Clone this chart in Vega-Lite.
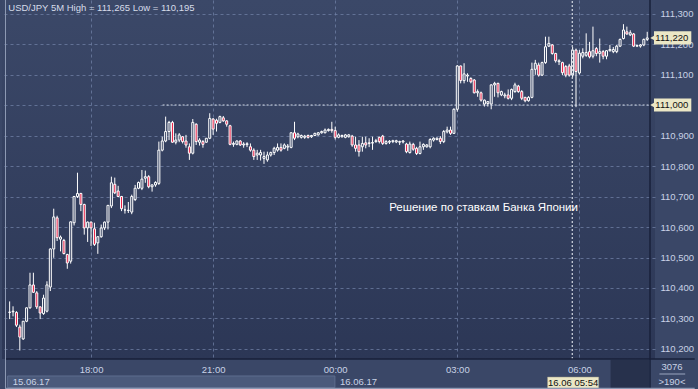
{
  "$schema": "https://vega.github.io/schema/vega-lite/v6.json",
  "width": 653,
  "height": 359,
  "autosize": "none",
  "padding": {"left": 2, "top": 0, "right": 43, "bottom": 30},
  "background": "#3a4767",
  "config": {
    "view": {"stroke": null, "fill": {"gradient": "linear", "x1": 0, "y1": 0, "x2": 0, "y2": 1, "stops": [{"offset": 0, "color": "#3b4868"}, {"offset": 1, "color": "#2c3756"}]}},
    "axis": {"labelFont": "Liberation Sans", "labelFontSize": 9.5, "labelColor": "#c9d2e6", "ticks": false, "domain": false, "gridColor": "#7080a6", "gridDash": [3, 3], "gridOpacity": 0.75, "gridWidth": 1, "title": null, "labelOverlap": false}
  },
  "datasets": {
    "candles": [
      {"i":0,"o":110.320,"h":110.356,"l":110.298,"c":110.321},
      {"i":1,"o":110.322,"h":110.340,"l":110.307,"c":110.324},
      {"i":2,"o":110.320,"h":110.324,"l":110.272,"c":110.278},
      {"i":3,"o":110.272,"h":110.280,"l":110.195,"c":110.239},
      {"i":4,"o":110.233,"h":110.291,"l":110.230,"c":110.291},
      {"i":5,"o":110.291,"h":110.336,"l":110.288,"c":110.335},
      {"i":6,"o":110.335,"h":110.450,"l":110.332,"c":110.410},
      {"i":7,"o":110.410,"h":110.450,"l":110.384,"c":110.386},
      {"i":8,"o":110.384,"h":110.390,"l":110.331,"c":110.338},
      {"i":9,"o":110.338,"h":110.340,"l":110.298,"c":110.318},
      {"i":10,"o":110.316,"h":110.378,"l":110.312,"c":110.367},
      {"i":11,"o":110.324,"h":110.422,"l":110.320,"c":110.410},
      {"i":12,"o":110.403,"h":110.530,"l":110.390,"c":110.528},
      {"i":13,"o":110.528,"h":110.660,"l":110.499,"c":110.633},
      {"i":14,"o":110.630,"h":110.637,"l":110.554,"c":110.565},
      {"i":15,"o":110.560,"h":110.572,"l":110.520,"c":110.567},
      {"i":16,"o":110.556,"h":110.561,"l":110.510,"c":110.513},
      {"i":17,"o":110.510,"h":110.512,"l":110.463,"c":110.482},
      {"i":18,"o":110.488,"h":110.618,"l":110.480,"c":110.617},
      {"i":19,"o":110.614,"h":110.702,"l":110.605,"c":110.700},
      {"i":20,"o":110.700,"h":110.778,"l":110.695,"c":110.710},
      {"i":21,"o":110.710,"h":110.712,"l":110.652,"c":110.674},
      {"i":22,"o":110.674,"h":110.676,"l":110.575,"c":110.597},
      {"i":23,"o":110.597,"h":110.618,"l":110.551,"c":110.616},
      {"i":24,"o":110.616,"h":110.618,"l":110.538,"c":110.597},
      {"i":25,"o":110.594,"h":110.614,"l":110.538,"c":110.543},
      {"i":26,"o":110.548,"h":110.570,"l":110.512,"c":110.568},
      {"i":27,"o":110.568,"h":110.608,"l":110.565,"c":110.597},
      {"i":28,"o":110.597,"h":110.618,"l":110.590,"c":110.616},
      {"i":29,"o":110.616,"h":110.672,"l":110.592,"c":110.671},
      {"i":30,"o":110.669,"h":110.765,"l":110.662,"c":110.745},
      {"i":31,"o":110.740,"h":110.762,"l":110.708,"c":110.712},
      {"i":32,"o":110.718,"h":110.735,"l":110.698,"c":110.700},
      {"i":33,"o":110.700,"h":110.702,"l":110.652,"c":110.660},
      {"i":34,"o":110.656,"h":110.671,"l":110.644,"c":110.656},
      {"i":35,"o":110.654,"h":110.682,"l":110.646,"c":110.655},
      {"i":36,"o":110.649,"h":110.706,"l":110.642,"c":110.700},
      {"i":37,"o":110.690,"h":110.738,"l":110.685,"c":110.727},
      {"i":38,"o":110.727,"h":110.749,"l":110.724,"c":110.746},
      {"i":39,"o":110.727,"h":110.787,"l":110.721,"c":110.757},
      {"i":40,"o":110.760,"h":110.785,"l":110.745,"c":110.765},
      {"i":41,"o":110.765,"h":110.770,"l":110.727,"c":110.732},
      {"i":42,"o":110.732,"h":110.740,"l":110.716,"c":110.738},
      {"i":43,"o":110.738,"h":110.750,"l":110.732,"c":110.746},
      {"i":44,"o":110.743,"h":110.880,"l":110.738,"c":110.852},
      {"i":45,"o":110.852,"h":110.896,"l":110.848,"c":110.882},
      {"i":46,"o":110.882,"h":110.962,"l":110.878,"c":110.913},
      {"i":47,"o":110.913,"h":110.948,"l":110.885,"c":110.943},
      {"i":48,"o":110.943,"h":110.948,"l":110.876,"c":110.878},
      {"i":49,"o":110.878,"h":110.907,"l":110.871,"c":110.885},
      {"i":50,"o":110.885,"h":110.908,"l":110.878,"c":110.902},
      {"i":51,"o":110.896,"h":110.898,"l":110.874,"c":110.880},
      {"i":52,"o":110.882,"h":110.902,"l":110.860,"c":110.869},
      {"i":53,"o":110.863,"h":110.874,"l":110.820,"c":110.842},
      {"i":54,"o":110.842,"h":110.954,"l":110.838,"c":110.943},
      {"i":55,"o":110.937,"h":110.940,"l":110.869,"c":110.880},
      {"i":56,"o":110.878,"h":110.891,"l":110.867,"c":110.885},
      {"i":57,"o":110.880,"h":110.885,"l":110.860,"c":110.871},
      {"i":58,"o":110.878,"h":110.891,"l":110.876,"c":110.891},
      {"i":59,"o":110.891,"h":110.973,"l":110.888,"c":110.956},
      {"i":60,"o":110.954,"h":110.957,"l":110.902,"c":110.921},
      {"i":61,"o":110.950,"h":110.955,"l":110.913,"c":110.940},
      {"i":62,"o":110.943,"h":110.965,"l":110.940,"c":110.962},
      {"i":63,"o":110.958,"h":110.964,"l":110.945,"c":110.948},
      {"i":64,"o":110.948,"h":110.950,"l":110.929,"c":110.937},
      {"i":65,"o":110.932,"h":110.935,"l":110.868,"c":110.871},
      {"i":66,"o":110.871,"h":110.880,"l":110.863,"c":110.874},
      {"i":67,"o":110.871,"h":110.884,"l":110.868,"c":110.882},
      {"i":68,"o":110.882,"h":110.885,"l":110.866,"c":110.869},
      {"i":69,"o":110.869,"h":110.878,"l":110.860,"c":110.872},
      {"i":70,"o":110.870,"h":110.878,"l":110.862,"c":110.873},
      {"i":71,"o":110.863,"h":110.874,"l":110.847,"c":110.852},
      {"i":72,"o":110.852,"h":110.858,"l":110.820,"c":110.831},
      {"i":73,"o":110.836,"h":110.853,"l":110.820,"c":110.842},
      {"i":74,"o":110.836,"h":110.853,"l":110.818,"c":110.844},
      {"i":75,"o":110.825,"h":110.847,"l":110.807,"c":110.831},
      {"i":76,"o":110.820,"h":110.847,"l":110.814,"c":110.836},
      {"i":77,"o":110.836,"h":110.847,"l":110.831,"c":110.844},
      {"i":78,"o":110.844,"h":110.863,"l":110.836,"c":110.858},
      {"i":79,"o":110.852,"h":110.874,"l":110.847,"c":110.861},
      {"i":80,"o":110.861,"h":110.874,"l":110.847,"c":110.852},
      {"i":81,"o":110.858,"h":110.874,"l":110.855,"c":110.869},
      {"i":82,"o":110.862,"h":110.872,"l":110.850,"c":110.865},
      {"i":83,"o":110.861,"h":110.911,"l":110.858,"c":110.909},
      {"i":84,"o":110.909,"h":110.945,"l":110.885,"c":110.891},
      {"i":85,"o":110.896,"h":110.909,"l":110.891,"c":110.905},
      {"i":86,"o":110.894,"h":110.903,"l":110.890,"c":110.900},
      {"i":87,"o":110.894,"h":110.902,"l":110.889,"c":110.898},
      {"i":88,"o":110.900,"h":110.903,"l":110.890,"c":110.894},
      {"i":89,"o":110.896,"h":110.902,"l":110.892,"c":110.900},
      {"i":90,"o":110.900,"h":110.909,"l":110.898,"c":110.907},
      {"i":91,"o":110.902,"h":110.911,"l":110.900,"c":110.909},
      {"i":92,"o":110.909,"h":110.916,"l":110.906,"c":110.913},
      {"i":93,"o":110.909,"h":110.923,"l":110.907,"c":110.918},
      {"i":94,"o":110.916,"h":110.923,"l":110.913,"c":110.920},
      {"i":95,"o":110.920,"h":110.945,"l":110.909,"c":110.916},
      {"i":96,"o":110.916,"h":110.929,"l":110.887,"c":110.894},
      {"i":97,"o":110.894,"h":110.907,"l":110.891,"c":110.902},
      {"i":98,"o":110.896,"h":110.903,"l":110.893,"c":110.900},
      {"i":99,"o":110.894,"h":110.905,"l":110.891,"c":110.902},
      {"i":100,"o":110.896,"h":110.905,"l":110.893,"c":110.902},
      {"i":101,"o":110.898,"h":110.902,"l":110.863,"c":110.869},
      {"i":102,"o":110.869,"h":110.896,"l":110.847,"c":110.858},
      {"i":103,"o":110.869,"h":110.885,"l":110.831,"c":110.847},
      {"i":104,"o":110.863,"h":110.896,"l":110.847,"c":110.874},
      {"i":105,"o":110.876,"h":110.896,"l":110.858,"c":110.869},
      {"i":106,"o":110.874,"h":110.891,"l":110.862,"c":110.876},
      {"i":107,"o":110.875,"h":110.896,"l":110.853,"c":110.877},
      {"i":108,"o":110.880,"h":110.889,"l":110.876,"c":110.883},
      {"i":109,"o":110.894,"h":110.896,"l":110.874,"c":110.880},
      {"i":110,"o":110.898,"h":110.902,"l":110.869,"c":110.874},
      {"i":111,"o":110.874,"h":110.885,"l":110.870,"c":110.880},
      {"i":112,"o":110.878,"h":110.885,"l":110.872,"c":110.881},
      {"i":113,"o":110.880,"h":110.886,"l":110.875,"c":110.883},
      {"i":114,"o":110.879,"h":110.886,"l":110.875,"c":110.883},
      {"i":115,"o":110.878,"h":110.883,"l":110.869,"c":110.880},
      {"i":116,"o":110.879,"h":110.885,"l":110.874,"c":110.882},
      {"i":117,"o":110.872,"h":110.876,"l":110.842,"c":110.847},
      {"i":118,"o":110.844,"h":110.880,"l":110.841,"c":110.872},
      {"i":119,"o":110.871,"h":110.876,"l":110.850,"c":110.855},
      {"i":120,"o":110.858,"h":110.863,"l":110.836,"c":110.841},
      {"i":121,"o":110.841,"h":110.880,"l":110.838,"c":110.863},
      {"i":122,"o":110.863,"h":110.874,"l":110.853,"c":110.871},
      {"i":123,"o":110.863,"h":110.872,"l":110.860,"c":110.869},
      {"i":124,"o":110.863,"h":110.891,"l":110.858,"c":110.887},
      {"i":125,"o":110.885,"h":110.894,"l":110.880,"c":110.891},
      {"i":126,"o":110.887,"h":110.894,"l":110.884,"c":110.891},
      {"i":127,"o":110.891,"h":110.898,"l":110.872,"c":110.880},
      {"i":128,"o":110.880,"h":110.918,"l":110.875,"c":110.913},
      {"i":129,"o":110.912,"h":110.929,"l":110.907,"c":110.918},
      {"i":130,"o":110.918,"h":110.929,"l":110.902,"c":110.907},
      {"i":131,"o":110.907,"h":110.989,"l":110.905,"c":110.986},
      {"i":132,"o":110.986,"h":111.131,"l":110.978,"c":111.128},
      {"i":133,"o":111.128,"h":111.129,"l":111.071,"c":111.080},
      {"i":134,"o":111.080,"h":111.137,"l":111.071,"c":111.102},
      {"i":135,"o":111.095,"h":111.104,"l":111.076,"c":111.098},
      {"i":136,"o":111.087,"h":111.091,"l":111.071,"c":111.076},
      {"i":137,"o":111.082,"h":111.085,"l":111.038,"c":111.040},
      {"i":138,"o":111.040,"h":111.051,"l":111.027,"c":111.044},
      {"i":139,"o":111.040,"h":111.044,"l":111.011,"c":111.016},
      {"i":140,"o":111.003,"h":111.018,"l":110.995,"c":111.016},
      {"i":141,"o":111.005,"h":111.013,"l":110.995,"c":111.011},
      {"i":142,"o":111.003,"h":111.068,"l":110.986,"c":111.066},
      {"i":143,"o":111.066,"h":111.076,"l":111.027,"c":111.071},
      {"i":144,"o":111.071,"h":111.073,"l":111.025,"c":111.040},
      {"i":145,"o":111.033,"h":111.047,"l":111.029,"c":111.044},
      {"i":146,"o":111.030,"h":111.040,"l":111.022,"c":111.033},
      {"i":147,"o":111.033,"h":111.051,"l":111.018,"c":111.022},
      {"i":148,"o":111.022,"h":111.054,"l":111.016,"c":111.051},
      {"i":149,"o":111.044,"h":111.073,"l":111.040,"c":111.066},
      {"i":150,"o":111.062,"h":111.066,"l":111.040,"c":111.044},
      {"i":151,"o":111.044,"h":111.049,"l":111.016,"c":111.022},
      {"i":152,"o":111.025,"h":111.027,"l":111.009,"c":111.014},
      {"i":153,"o":111.014,"h":111.029,"l":111.011,"c":111.025},
      {"i":154,"o":111.025,"h":111.139,"l":111.022,"c":111.117},
      {"i":155,"o":111.117,"h":111.148,"l":111.099,"c":111.137},
      {"i":156,"o":111.131,"h":111.139,"l":111.093,"c":111.098},
      {"i":157,"o":111.098,"h":111.142,"l":111.095,"c":111.139},
      {"i":158,"o":111.139,"h":111.224,"l":111.135,"c":111.191},
      {"i":159,"o":111.193,"h":111.224,"l":111.190,"c":111.202},
      {"i":160,"o":111.197,"h":111.200,"l":111.165,"c":111.169},
      {"i":161,"o":111.169,"h":111.171,"l":111.139,"c":111.145},
      {"i":162,"o":111.142,"h":111.150,"l":111.131,"c":111.145},
      {"i":163,"o":111.139,"h":111.142,"l":111.098,"c":111.106},
      {"i":164,"o":111.126,"h":111.131,"l":111.091,"c":111.098},
      {"i":165,"o":111.128,"h":111.135,"l":111.093,"c":111.098},
      {"i":166,"o":111.098,"h":111.190,"l":111.090,"c":111.180},
      {"i":167,"o":111.180,"h":111.185,"l":110.993,"c":111.110},
      {"i":168,"o":111.105,"h":111.180,"l":111.100,"c":111.170},
      {"i":169,"o":111.160,"h":111.186,"l":111.153,"c":111.172},
      {"i":170,"o":111.163,"h":111.235,"l":111.158,"c":111.172},
      {"i":171,"o":111.175,"h":111.207,"l":111.153,"c":111.158},
      {"i":172,"o":111.160,"h":111.257,"l":111.153,"c":111.178},
      {"i":173,"o":111.185,"h":111.190,"l":111.160,"c":111.169},
      {"i":174,"o":111.169,"h":111.218,"l":111.139,"c":111.175},
      {"i":175,"o":111.175,"h":111.180,"l":111.150,"c":111.160},
      {"i":176,"o":111.160,"h":111.180,"l":111.150,"c":111.178},
      {"i":177,"o":111.178,"h":111.197,"l":111.175,"c":111.182},
      {"i":178,"o":111.175,"h":111.190,"l":111.170,"c":111.182},
      {"i":179,"o":111.175,"h":111.197,"l":111.170,"c":111.193},
      {"i":180,"o":111.193,"h":111.218,"l":111.190,"c":111.215},
      {"i":181,"o":111.218,"h":111.265,"l":111.215,"c":111.246},
      {"i":182,"o":111.240,"h":111.257,"l":111.230,"c":111.233},
      {"i":183,"o":111.230,"h":111.245,"l":111.226,"c":111.237},
      {"i":184,"o":111.233,"h":111.236,"l":111.190,"c":111.193},
      {"i":185,"o":111.193,"h":111.198,"l":111.190,"c":111.195},
      {"i":186,"o":111.193,"h":111.200,"l":111.188,"c":111.197},
      {"i":187,"o":111.197,"h":111.218,"l":111.193,"c":111.215},
      {"i":188,"o":111.215,"h":111.240,"l":111.210,"c":111.220}
    ]
  },
  "layer": [
    {
      "data": {"name": "candles"},
      "mark": {"type": "rule", "color": "#ffffff", "strokeWidth": 1},
      "encoding": {
        "x": {"field": "i", "type": "quantitative", "scale": {"domain": [-0.78, 188.82], "nice": false, "zero": false},
              "axis": {"values": [24, 60, 96, 132, 168], "tickCount": 20, "labelExpr": "['18:00','21:00','00:00','03:00','06:00'][round((datum.value-24)/36)]", "labelPadding": 5, "grid": true, "title": null, "labelOverlap": false}},
        "y": {"field": "l", "type": "quantitative", "scale": {"domain": [110.1672, 111.3443], "nice": false, "zero": false},
              "axis": {"orient": "right", "values": [110.2, 110.3, 110.4, 110.5, 110.6, 110.7, 110.8, 110.9, 111.0, 111.1, 111.2, 111.3], "tickCount": 30, "labelExpr": "abs(datum.value - 111) < 0.001 ? '' : replace(format(datum.value, '.3f'), '.', ',')", "labelPadding": 5, "grid": true, "title": null, "labelOverlap": false}},
        "y2": {"field": "h"}
      }
    },
    {
      "data": {"name": "candles"},
      "mark": {"type": "bar", "width": 2, "stroke": "#ffffff", "strokeWidth": 1},
      "encoding": {
        "x": {"field": "i", "type": "quantitative"},
        "y": {"field": "o", "type": "quantitative"},
        "y2": {"field": "c"},
        "fill": {
          "condition": {"test": "datum.c < datum.o", "value": "#e8173f"},
          "field": "c", "type": "quantitative",
          "scale": {"domain": [110.1672, 111.3443], "range": ["#2c3756", "#3b4868"]},
          "legend": null
        }
      }
    },
    {
      "data": {"values": [{}]},
      "mark": {"type": "rule", "color": "#d4d9e4", "strokeWidth": 1.2, "strokeDash": [2, 2]},
      "encoding": {"x": {"datum": 45.1}, "x2": {"datum": 188.82}, "y": {"datum": 111.0}}
    },
    {
      "data": {"values": [{}]},
      "mark": {"type": "rule", "color": "#d4d9e4", "strokeWidth": 1.2, "strokeDash": [2, 2]},
      "encoding": {"x": {"datum": 165.9}, "y": {"datum": 110.1672}, "y2": {"datum": 111.3443}}
    },
    {
      "data": {"values": [{}]},
      "mark": {"type": "text", "text": "Решение по ставкам Банка Японии", "font": "Liberation Sans", "fontSize": 11.5, "color": "#ffffff", "align": "left", "baseline": "middle"},
      "encoding": {"x": {"datum": 111.9}, "y": {"datum": 110.662}}
    },
    {
      "data": {"values": [{}]},
      "mark": {"type": "text", "text": "USD/JPY 5M High = 111,265 Low = 110,195", "font": "Liberation Sans", "fontSize": 9.5, "color": "#d6dcea", "align": "left", "baseline": "middle"},
      "encoding": {"x": {"datum": -0.4}, "y": {"datum": 111.318}}
    },
    {
      "data": {"values": [{}]},
      "mark": {"type": "rule", "color": "#18203a", "strokeWidth": 1.5},
      "encoding": {"x": {"datum": 188.82}, "y": {"datum": 110.06}, "y2": {"datum": 111.3443}}
    },
    {
      "data": {"values": [{}]},
      "mark": {"type": "rule", "color": "#18203a", "strokeWidth": 1.5},
      "encoding": {"x": {"datum": -1.3}, "x2": {"datum": 202}, "y": {"datum": 110.1672}}
    },
    {
      "data": {"values": [{}]},
      "mark": {"type": "rect", "fill": "#4b5a7b", "stroke": "#5e6d8e", "strokeWidth": 1},
      "encoding": {"x": {"datum": -0.6}, "x2": {"datum": 95.9}, "y": {"datum": 110.1115}, "y2": {"datum": 110.0735}}
    },
    {
      "data": {"values": [{}]},
      "mark": {"type": "rect", "fill": "#27314c"},
      "encoding": {"x": {"datum": 177.2}, "x2": {"datum": 188.6}, "y": {"datum": 110.164}, "y2": {"datum": 110.07}}
    },
    {
      "data": {"values": [{}]},
      "mark": {"type": "text", "text": "15.06.17", "font": "Liberation Sans", "fontSize": 9.5, "color": "#c9d2e6", "align": "left", "baseline": "middle"},
      "encoding": {"x": {"datum": 0.9}, "y": {"datum": 110.0918}}
    },
    {
      "data": {"values": [{}]},
      "mark": {"type": "text", "text": "16.06.17", "font": "Liberation Sans", "fontSize": 9.5, "color": "#c9d2e6", "align": "left", "baseline": "middle"},
      "encoding": {"x": {"datum": 97.4}, "y": {"datum": 110.0918}}
    },
    {
      "data": {"values": [{}]},
      "mark": {"type": "rect", "fill": "#ebe7c6", "stroke": "#9a9680", "strokeWidth": 0.5},
      "encoding": {"x": {"datum": 158.6}, "x2": {"datum": 173.7}, "y": {"datum": 110.108}, "y2": {"datum": 110.071}}
    },
    {
      "data": {"values": [{}]},
      "mark": {"type": "text", "text": "16.06 05:54", "font": "Liberation Sans", "fontSize": 9.5, "color": "#111111", "align": "center", "baseline": "middle"},
      "encoding": {"x": {"datum": 166.15}, "y": {"datum": 110.0895}}
    },
    {
      "data": {"values": [{}]},
      "mark": {"type": "rect", "fill": "#ebe7c6"},
      "encoding": {"x": {"datum": 190.0}, "x2": {"datum": 201.0}, "y": {"datum": 111.2415}, "y2": {"datum": 111.1985}}
    },
    {
      "data": {"values": [{}]},
      "mark": {"type": "point", "shape": "triangle-left", "filled": true, "size": 40, "color": "#ebe7c6", "opacity": 1},
      "encoding": {"x": {"datum": 189.7}, "y": {"datum": 111.22}}
    },
    {
      "data": {"values": [{}]},
      "mark": {"type": "text", "text": "111,220", "font": "Liberation Sans", "fontSize": 9.5, "color": "#111111", "align": "left", "baseline": "middle"},
      "encoding": {"x": {"datum": 190.4}, "y": {"datum": 111.22}}
    },
    {
      "data": {"values": [{}]},
      "mark": {"type": "rect", "fill": "#ebe7c6"},
      "encoding": {"x": {"datum": 190.0}, "x2": {"datum": 201.0}, "y": {"datum": 111.0215}, "y2": {"datum": 110.9785}}
    },
    {
      "data": {"values": [{}]},
      "mark": {"type": "point", "shape": "triangle-left", "filled": true, "size": 40, "color": "#ebe7c6", "opacity": 1},
      "encoding": {"x": {"datum": 189.7}, "y": {"datum": 111.0}}
    },
    {
      "data": {"values": [{}]},
      "mark": {"type": "text", "text": "111,000", "font": "Liberation Sans", "fontSize": 9.5, "color": "#111111", "align": "left", "baseline": "middle"},
      "encoding": {"x": {"datum": 190.4}, "y": {"datum": 111.0}}
    },
    {
      "data": {"values": [{}]},
      "mark": {"type": "text", "text": "3076", "font": "Liberation Sans", "fontSize": 9.5, "color": "#c9d2e6", "align": "center", "baseline": "middle"},
      "encoding": {"x": {"datum": 195.3}, "y": {"datum": 110.141}}
    },
    {
      "data": {"values": [{}]},
      "mark": {"type": "rule", "color": "#9aa6c0", "strokeWidth": 1},
      "encoding": {"x": {"datum": 191.6}, "x2": {"datum": 199.2}, "y": {"datum": 110.118}}
    },
    {
      "data": {"values": [{}]},
      "mark": {"type": "text", "text": ">190<", "font": "Liberation Sans", "fontSize": 9.5, "color": "#c9d2e6", "align": "center", "baseline": "middle"},
      "encoding": {"x": {"datum": 195.3}, "y": {"datum": 110.0918}}
    },
    {
      "data": {"values": [{}]},
      "mark": {"type": "rule", "color": "#8d99b3", "strokeWidth": 1.5},
      "encoding": {"x": {"datum": -1.3}, "x2": {"datum": 202}, "y": {"datum": 110.0705}}
    },
    {
      "data": {"values": [{}]},
      "mark": {"type": "rule", "color": "#8d99b3", "strokeWidth": 1},
      "encoding": {"x": {"datum": -1.22}, "y": {"datum": 110.07}, "y2": {"datum": 111.3443}}
    }
  ]
}
